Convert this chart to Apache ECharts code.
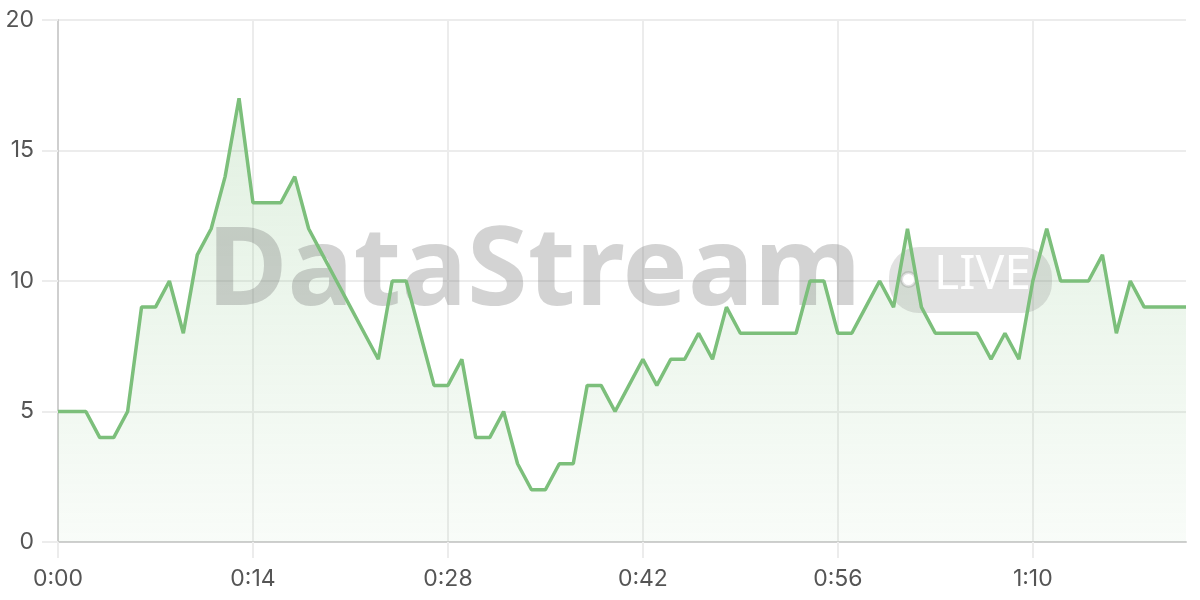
<!DOCTYPE html>
<html>
<head>
<meta charset="utf-8">
<title>DataStream</title>
<script src="https://cdn.jsdelivr.net/npm/echarts@6/dist/echarts.min.js"></script>
<style>
  html, body { margin: 0; padding: 0; background: #fff; }
  #chart { width: 1200px; height: 600px; }
</style>
</head>
<body>
<div id="chart"></div>
<script>
// one value per second, 0:00 .. 1:21
var values = [
  5, 5, 5, 4, 4, 5, 9, 9, 10, 8,
  11, 12, 14, 17, 13, 13, 13, 14, 12, 11,
  10, 9, 8, 7, 10, 10, 8, 6, 6, 7,
  4, 4, 5, 3, 2, 2, 3, 3, 6, 6,
  5, 6, 7, 6, 7, 7, 8, 7, 9, 8,
  8, 8, 8, 8, 10, 10, 8, 8, 9, 10,
  9, 12, 9, 8, 8, 8, 8, 7, 8, 7,
  10, 12, 10, 10, 10, 11, 8, 10, 9, 9,
  9, 9
];
var yTicks = [0, 5, 10, 15, 20];

function fmtTime(sec) {
  var m = Math.floor(sec / 60), s = sec % 60;
  return m + ':' + (s < 10 ? '0' : '') + s;
}
var times = values.map(function (v, i) { return fmtTime(i); });

var green = '#7cbf7b';
var labelFont = { color: '#555', fontSize: 23, fontFamily: 'Inter' };

var chart = echarts.init(document.getElementById('chart'));
chart.setOption({
  animation: false,
  grid: { left: 58, right: 14, top: 20, bottom: 58 },
  xAxis: {
    type: 'category',
    data: times,
    boundaryGap: false,
    axisLine: { lineStyle: { color: '#cfcfcf', width: 2 } },
    axisTick: { interval: 13, length: 16, lineStyle: { color: '#ececec', width: 2 } },
    axisLabel: Object.assign({ interval: 13, margin: 26 }, labelFont),
    splitLine: { show: true, interval: 13, lineStyle: { color: '#ececec', width: 2 } }
  },
  yAxis: {
    type: 'value',
    min: yTicks[0],
    max: yTicks[yTicks.length - 1],
    interval: 5,
    axisLine: { show: true, lineStyle: { color: '#cfcfcf', width: 2 } },
    axisTick: { show: true, length: 16, lineStyle: { color: '#ececec', width: 2 } },
    axisLabel: Object.assign({ margin: 24 }, labelFont),
    splitLine: { lineStyle: { color: '#ececec', width: 2 } }
  },
  graphic: [
    {
      type: 'text', z: 2, left: 207, top: 219,
      style: {
        text: 'DataStream', fill: 'rgba(110,110,110,0.3)',
        font: 'bold 110px "Noto Sans"'
      }
    },
    {
      type: 'rect', z: 2, left: 889, top: 247,
      shape: { width: 163, height: 66, r: 30 },
      style: { fill: 'rgba(110,110,110,0.2)' }
    },
    {
      type: 'circle', z: 2, left: 900, top: 271,
      shape: { r: 7 },
      style: { fill: '#fff', stroke: 'rgba(110,110,110,0.22)', lineWidth: 3 }
    },
    {
      type: 'text', z: 2, left: 934, top: 251,
      style: { text: 'LIVE', fill: '#fff', font: '48px "Noto Sans"' }
    }
  ],
  series: [
    {
      type: 'line', z: 1, data: values, symbol: 'none',
      lineStyle: { width: 0 },
      areaStyle: {
        color: new echarts.graphic.LinearGradient(0, 0, 0, 1, [
          { offset: 0, color: 'rgba(124,191,123,0.32)' },
          { offset: 1, color: 'rgba(124,191,123,0.07)' }
        ])
      },
      silent: true
    },
    {
      type: 'line', z: 3, data: values, symbol: 'none',
      lineStyle: { color: green, width: 3.5 }
    }
  ]
});
</script>
</body>
</html>
